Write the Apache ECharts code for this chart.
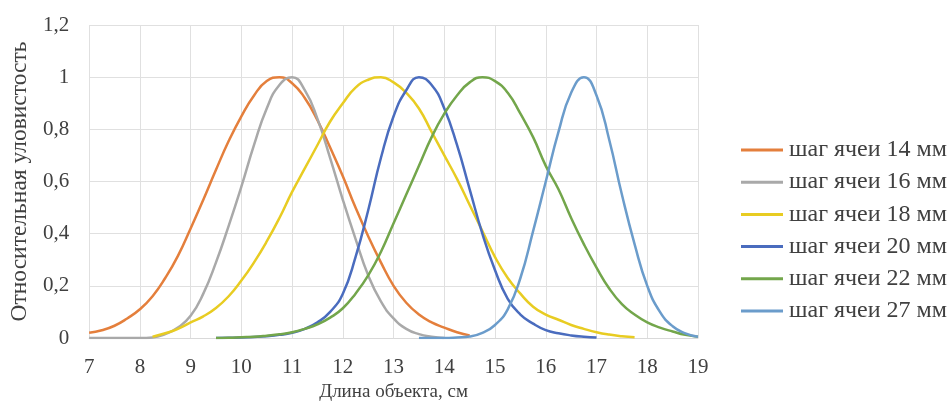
<!DOCTYPE html>
<html>
<head>
<meta charset="utf-8">
<script src="https://cdn.jsdelivr.net/npm/echarts@6/dist/echarts.min.js"></script>
<style>
html,body{margin:0;padding:0;background:#fff;}
#chart{width:952px;height:410px;}
</style>
</head>
<body>
<div id="chart"></div>
<script>
// x positions (cm), step 0.25 from 7 to 19
const XS = [7,7.25,7.5,7.75,8,8.25,8.5,8.75,9,9.25,9.5,9.75,10,10.25,10.5,10.75,11,11.25,11.5,11.75,12,12.25,12.5,12.75,13,13.25,13.5,13.75,14,14.25,14.5,14.75,15,15.25,15.5,15.75,16,16.25,16.5,16.75,17,17.25,17.5,17.75,18,18.25,18.5,18.75,19];

const SERIES_NAMES = ['шаг ячеи 14 мм','шаг ячеи 16 мм','шаг ячеи 18 мм','шаг ячеи 20 мм','шаг ячеи 22 мм','шаг ячеи 27 мм'];

const mesh14 = [0.02,0.03,0.047,0.075,0.11,0.16,0.23,0.315,0.42,0.53,0.645,0.755,0.85,0.93,0.985,1.0,0.977,0.92,0.835,0.73,0.62,0.5,0.39,0.29,0.2,0.135,0.09,0.06,0.04,0.022,0.01,null,null,null,null,null,null,null,null,null,null,null,null,null,null,null,null,null,null];

const mesh16 = [0,0,0,0,0,0.002,0.015,0.04,0.085,0.17,0.29,0.43,0.58,0.74,0.88,0.97,1.0,0.95,0.84,0.69,0.53,0.38,0.24,0.14,0.075,0.035,0.015,0.005,0,null,null,null,null,null,null,null,null,null,null,null,null,null,null,null,null,null,null,null,null];

const mesh18 = [null,null,null,null,null,0.005,0.018,0.035,0.06,0.083,0.115,0.16,0.22,0.29,0.37,0.46,0.56,0.65,0.74,0.83,0.9,0.96,0.99,1.0,0.98,0.94,0.88,0.79,0.7,0.61,0.51,0.41,0.31,0.23,0.17,0.12,0.09,0.07,0.05,0.035,0.022,0.013,0.007,0.003,null,null,null,null,null];

const mesh20 = [null,null,null,null,null,null,null,null,null,null,0,0.001,0.002,0.004,0.007,0.012,0.02,0.035,0.06,0.1,0.17,0.31,0.49,0.69,0.85,0.95,1.0,0.97,0.88,0.74,0.57,0.4,0.26,0.15,0.09,0.055,0.03,0.018,0.01,0.005,0.002,null,null,null,null,null,null,null,null];

const mesh22 = [null,null,null,null,null,null,null,null,null,null,0,0.001,0.003,0.005,0.009,0.014,0.022,0.035,0.052,0.078,0.114,0.17,0.24,0.33,0.44,0.55,0.66,0.77,0.86,0.93,0.98,1.0,0.985,0.94,0.86,0.77,0.66,0.57,0.46,0.36,0.27,0.19,0.13,0.09,0.06,0.04,0.025,0.012,0.005];

const mesh27 = [null,null,null,null,null,null,null,null,null,null,null,null,null,null,null,null,null,null,null,null,null,null,null,null,null,null,0,0,0,0.002,0.006,0.02,0.05,0.11,0.23,0.41,0.6,0.79,0.94,1.0,0.93,0.76,0.55,0.36,0.2,0.1,0.045,0.018,0.005];

const X_TICKS = [7,8,9,10,11,12,13,14,15,16,17,18,19];
const Y_TICKS = ['0','0,2','0,4','0,6','0,8','1','1,2'];

const COLORS = ['#E47F3C','#A9A9A9','#E8CC22','#4A6CBE','#73A64B','#6B9CCB'];
const VALUES = [mesh14, mesh16, mesh18, mesh20, mesh22, mesh27];

function pairs(arr){
  const out = [];
  for (let i = 0; i < XS.length; i++) if (arr[i] !== null) out.push([XS[i], arr[i]]);
  return out;
}

const FONT = '"Liberation Serif", "Times New Roman", serif';
const chart = echarts.init(document.getElementById('chart'), null, {renderer:'canvas'});
chart.setOption({
  animation:false,
  backgroundColor:'#ffffff',
  color: COLORS,
  grid:{left:88, right:254, top:25, bottom:72, containLabel:false},
  legend:{
    orient:'vertical', left:741, top:138, padding:0,
    itemWidth:42, itemHeight:3, icon:'rect', itemGap:8.2,
    textStyle:{fontFamily:FONT, fontSize:24, lineHeight:24, color:'#404040', padding:[0,0,0,1]},
    data: SERIES_NAMES
  },
  xAxis:{
    type:'value', min:7, max:19, interval:1,
    name:'Длина объекта, см', nameLocation:'middle', nameGap:44,
    nameTextStyle:{fontFamily:FONT, fontSize:19, color:'#404040'},
    axisLine:{show:true, lineStyle:{color:'#D9D9D9', width:1}},
    axisTick:{show:false},
    axisLabel:{fontFamily:FONT, fontSize:21, color:'#404040', margin:19,
      formatter:(v)=> X_TICKS.includes(v) ? String(v) : ''},
    splitLine:{show:true, lineStyle:{color:'#E0E0E0', width:1}}
  },
  yAxis:{
    type:'value', min:0, max:1.2, interval:0.2,
    name:'Относительная уловистость', nameLocation:'middle', nameGap:56,
    nameTextStyle:{fontFamily:FONT, fontSize:23.5, color:'#404040'},
    axisLine:{show:false},
    axisTick:{show:false},
    axisLabel:{fontFamily:FONT, fontSize:21, color:'#404040', margin:20,
      formatter:(v)=> Y_TICKS[Math.round(v/0.2)]},
    splitLine:{show:true, lineStyle:{color:'#E0E0E0', width:1}}
  },
  series: VALUES.map((arr, i) => ({
    name: SERIES_NAMES[i], type:'line', data: pairs(arr),
    symbol:'none', smooth:0.5,
    lineStyle:{width:2.5, color:COLORS[i]}, itemStyle:{color:COLORS[i]}
  }))
});
</script>
</body>
</html>
